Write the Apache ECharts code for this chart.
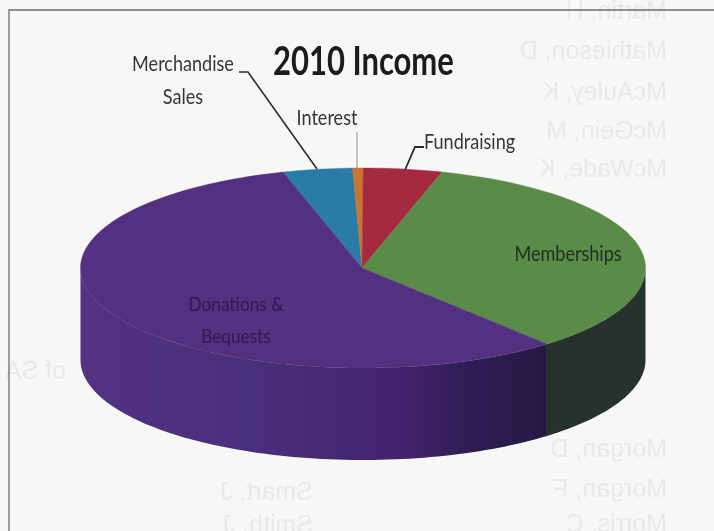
<!DOCTYPE html>
<html><head><meta charset="utf-8">
<style>html,body{margin:0;padding:0;background:#f7f7f6}#c{width:714px;height:531px}</style>
<script src="https://cdn.jsdelivr.net/npm/echarts@6/dist/echarts.min.js"></script>
</head><body><div id="c"></div>
<script>
// Slices clockwise from the Merchandise/Donations boundary (share of income, %)
var categories = ['Merchandise Sales', 'Interest', 'Fundraising', 'Memberships', 'Donations & Bequests'];
var values = [4.0, 0.6, 4.5, 34.2, 56.7];
var topColors = ['#2a7ba6', '#c8752f', '#a42a40', '#5a8b48', '#533080'];
var sideColors = ['#1c5572', '#8a5020', '#701c2b', '#26332d', '#3a2063'];
var bleedNamesRight = ['Martin, H', 'Mathieson, D', 'McAuley, K', 'McGein, M', 'McWade, K', 'Morgan, D', 'Morgan, F', 'Morris, C'];
var bleedRowsRight = [12, 52, 93, 132, 170, 450, 490, 525];
var bleedNamesMid = ['Smart, J', 'Smith, J'];
var bleedRowsMid = [493, 526];

var CX = 363, CY = 268, RX = 282.5, RY = 100, DEPTH = 92;
var START = -16.5;

function pt(tDeg, drop) {
  var t = tDeg * Math.PI / 180;
  return [CX + RX * Math.sin(t), CY - RY * Math.cos(t) + (drop || 0)];
}
var total = values.reduce(function (a, b) { return a + b; }, 0);
function range(i) {
  var a = START;
  for (var k = 0; k < i; k++) a += values[k] / total * 360;
  return [a, a + values[i] / total * 360];
}
function arc(a, b, drop) {
  var n = Math.max(2, Math.ceil((b - a) / 1.5)), out = [];
  for (var k = 0; k <= n; k++) out.push(pt(a + (b - a) * k / n, drop));
  return out;
}
function renderSide(params) {
  var i = params.dataIndex, r = range(i);
  var a = Math.max(r[0], 90), b = Math.min(r[1], 270);
  if (b <= a) return null;
  var pts = arc(a, b, 0).concat(arc(a, b, DEPTH).reverse());
  var fill = sideColors[i];
  if (i === 4) {
    fill = new echarts.graphic.LinearGradient(80, 0, 547, 0, [
      { offset: 0, color: '#533283' }, { offset: 0.36, color: '#49307c' },
      { offset: 0.68, color: '#43246f' }, { offset: 0.83, color: '#301c56' }, { offset: 1, color: '#251a42' }
    ], true);
  }
  return { type: 'polygon', shape: { points: pts }, style: { fill: fill, stroke: null } };
}
function renderTop(params) {
  var i = params.dataIndex, r = range(i);
  var pts = [[CX - 1, CY]].concat(arc(r[0], r[1], 0));
  return { type: 'polygon', shape: { points: pts }, style: { fill: topColors[i], stroke: topColors[i], lineWidth: 0.4 } };
}
var seriesData = categories.map(function (c, i) { return { name: c, value: values[i] }; });

function label(text, x, y, align, col, size, lh) {
  return { type: 'text', z: 20, x: x, y: y, scaleX: 0.86,
    style: { text: text, fill: col || '#363636', font: (size || 21) + 'px Lato', textAlign: align, textVerticalAlign: 'middle', lineHeight: lh || 33 } };
}
function leader(points, w, col) {
  return { type: 'polyline', z: 20, shape: { points: points }, style: { stroke: col, lineWidth: w, fill: null } };
}
function bleed(text, x, y) {
  return { type: 'text', z: -5, x: x, y: y, scaleX: -1,
    style: { text: text, fill: '#e8e8e8', font: '25px "Liberation Sans"', textAlign: 'left', textVerticalAlign: 'middle' } };
}
var elements = [
  leader([[9, 531], [9, 10], [714, 10]], 1.3, '#6e6e6e'),
  { type: 'text', z: 20, x: 273, y: 62, scaleX: 0.775,
    style: { text: '2010 Income', fill: '#1c1c1c', font: 'bold 40px Lato', textAlign: 'left', textVerticalAlign: 'middle' } },
  label('Merchandise\nSales', 183, 81, 'center'),
  label('Interest', 327, 118, 'center'),
  label('Fundraising', 424, 142, 'left'),
  label('Memberships', 568, 254, 'center', '#1d2f1c'),
  label('Donations &\nBequests', 236, 321, 'center', '#2e1a52', 20, 32),
  leader([[239, 72], [248, 72], [317, 169]], 1.6, '#2b2b2b'),
  leader([[357, 132], [357, 169]], 1, '#8c8c8c'),
  leader([[424, 147], [415, 147], [405, 170]], 1.8, '#2b2b2b'),
  bleed('of SA', 66, 372)
];
bleedNamesRight.forEach(function (n, i) { elements.push(bleed(n, 667, bleedRowsRight[i])); });
bleedNamesMid.forEach(function (n, i) { elements.push(bleed(n, 313, bleedRowsMid[i])); });

var chart = echarts.init(document.getElementById('c'), null, { renderer: 'canvas' });
chart.setOption({
  animation: false,
  backgroundColor: '#f7f7f6',
  tooltip: { show: false },
  graphic: { elements: elements },
  series: [
    { type: 'custom', name: 'sides', coordinateSystem: 'none', z: 1, silent: true, renderItem: renderSide, data: seriesData },
    { type: 'custom', name: 'tops', coordinateSystem: 'none', z: 2, silent: true, renderItem: renderTop, data: seriesData }
  ]
});
</script></body></html>
